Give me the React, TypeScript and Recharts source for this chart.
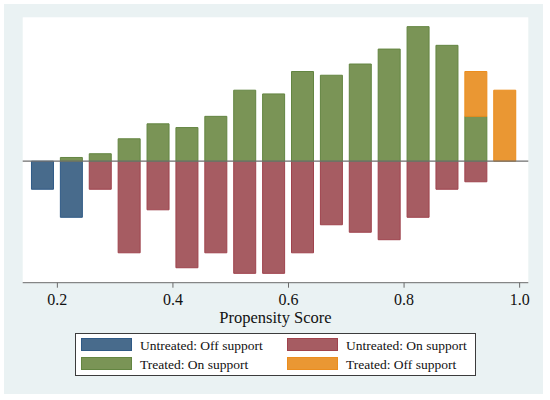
import { ComposedChart, Bar, XAxis, YAxis, CartesianGrid, ReferenceLine, Legend, Label } from 'recharts'

// bin midpoints of the propensity score histogram
const binCenters = [0.175, 0.225, 0.275, 0.325, 0.375, 0.425, 0.475, 0.525, 0.575, 0.625, 0.675, 0.725, 0.775, 0.825, 0.875, 0.925, 0.975]

// counts per bin (untreated are drawn below zero)
const untreatedOff = [15, 30, 0, 0, 0, 0, 0, 0, 0, 0, 0, 0, 0, 0, 0, 0, 0]
const untreatedOn = [0, 0, 15, 49, 26, 57, 49, 60, 60, 49, 34, 38, 42, 30, 15, 11, 0]
const treatedOn = [0, 2, 4, 12, 20, 18, 24, 38, 36, 48, 46, 52, 60, 72, 62, 24, 0]
const treatedOff = [0, 0, 0, 0, 0, 0, 0, 0, 0, 0, 0, 0, 0, 0, 0, 24, 38]

const xTicks = [0.2, 0.4, 0.6, 0.8, 1.0]

const series = [
  { key: 'untreatedOff', name: 'Untreated: Off support', fill: '#486b8c', stroke: '#2f5a86' },
  { key: 'untreatedOn', name: 'Untreated: On support', fill: '#a65c62', stroke: '#9f434d' },
  { key: 'treatedOn', name: 'Treated: On support', fill: '#7a9456', stroke: '#638541' },
  { key: 'treatedOff', name: 'Treated: Off support', fill: '#ea9733', stroke: '#eb8d1e' },
]

const rows = binCenters.map((x, i) => ({
  x,
  untreatedOff: -untreatedOff[i],
  untreatedOn: -untreatedOn[i],
  treatedOn: treatedOn[i],
  treatedOff: treatedOff[i],
}))

function StataLegend() {
  const swatchLeft = [4.4, 210.4]
  const textLeft = [63.7, 269.7]
  const rowTop = [4.6, 23.6]
  const textTop = [5, 24.3]
  return (
    <div
      style={{
        position: 'relative',
        width: 401,
        height: 43.3,
        boxSizing: 'border-box',
        border: '1px solid #3c3c3c',
        background: '#fff',
        fontFamily: '"Liberation Serif", serif',
        fontSize: 13.5,
        lineHeight: '13.5px',
        color: '#111',
      }}
    >
      {series.map((s, i) => {
        const col = i % 2
        const row = Math.floor(i / 2)
        return (
          <div key={s.key}>
            <div
              style={{
                position: 'absolute',
                left: swatchLeft[col],
                top: rowTop[row],
                width: 51,
                height: 12.7,
                boxSizing: 'border-box',
                background: s.fill,
                border: `1px solid ${s.stroke}`,
              }}
            />
            <span style={{ position: 'absolute', left: textLeft[col], top: textTop[row], whiteSpace: 'nowrap' }}>
              {s.name}
            </span>
          </div>
        )
      })}
    </div>
  )
}

export default function App() {
  return (
    <div style={{ position: 'relative', width: 550, height: 400, background: '#fff' }}>
      <style>{'body { margin: 0; }'}</style>
      <div style={{ position: 'absolute', left: 4, top: 4, width: 539, height: 390, background: '#eaf2f3' }} />
      <div style={{ position: 'absolute', left: 0, top: 0 }}>
        <ComposedChart
          width={550}
          height={400}
          data={rows}
          stackOffset="sign"
          margin={{ top: 17.3, right: 21.7, left: 22.7, bottom: 0 }}
          style={{ fontFamily: '"Liberation Serif", serif' }}
        >
          <CartesianGrid fill="#fff" horizontal={false} vertical={false} />
          <XAxis
            dataKey="x"
            type="number"
            domain={[0.14, 1.015]}
            allowDataOverflow
            ticks={xTicks}
            tickFormatter={(v: number) => v.toFixed(1)}
            height={117.3}
            tickSize={5}
            tickMargin={6}
            stroke="#6a6a6a"
            tick={{ fill: '#111', fontSize: 16 }}
          >
            <Label value="Propensity Score" position="insideTop" offset={28.5} style={{ fill: '#111', fontSize: 16.5 }} />
          </XAxis>
          <YAxis type="number" domain={[-65, 77]} allowDataOverflow width={0} tick={false} tickLine={false} stroke="#6a6a6a" />
          {series.map((s) => (
            <Bar
              key={s.key}
              dataKey={s.key}
              name={s.name}
              stackId="hist"
              barSize={22}
              fill={s.fill}
              stroke={s.stroke}
              strokeWidth={1}
              isAnimationActive={false}
            />
          ))}
          <ReferenceLine y={0} stroke="#6e6e6e" strokeWidth={1.2} />
          <Legend
            layout="horizontal"
            verticalAlign="middle"
            align="center"
            wrapperStyle={{ left: 75.3, top: 332.7, width: 401, height: 43.3 }}
            content={() => <StataLegend />}
          />
        </ComposedChart>
      </div>
    </div>
  )
}
